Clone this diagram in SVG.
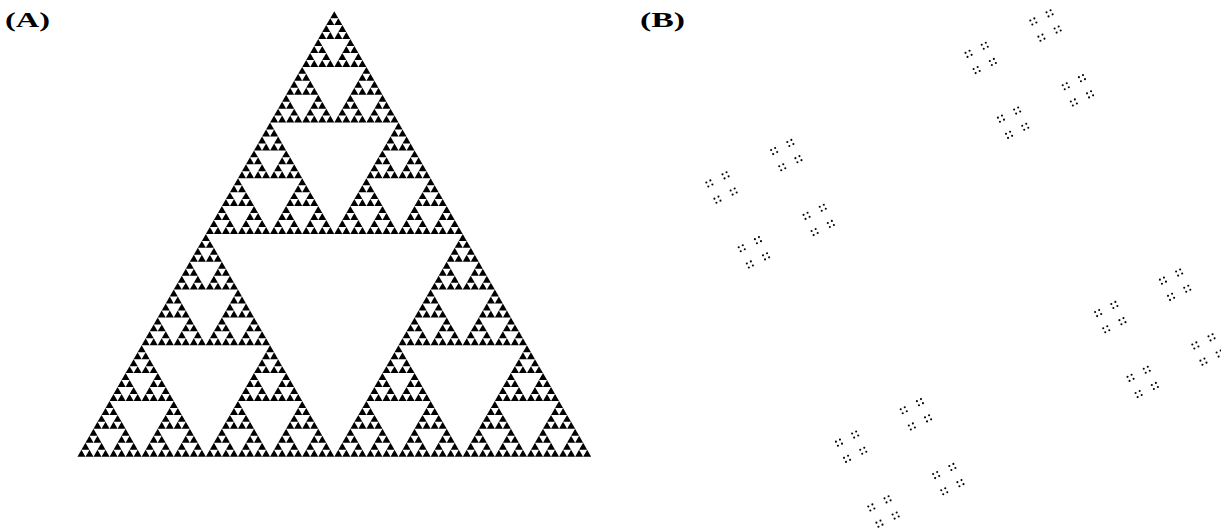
<svg xmlns="http://www.w3.org/2000/svg" width="1221" height="529" viewBox="0 0 1221 529">
<style>
.lbl{font-family:"Liberation Serif","DejaVu Serif",serif;font-weight:bold;font-size:22px;fill:#000}
.tri{fill:#000}
.dot{fill:#000}
</style>
<defs>
<polygon id="t0" class="tri" points="0,0 -4.0135,6.96 4.0135,6.96"/>
<g id="t1"><use href="#t0"/><use href="#t0" x="-4.0135" y="6.96"/><use href="#t0" x="4.0135" y="6.96"/></g>
<g id="t2"><use href="#t1"/><use href="#t1" x="-8.027" y="13.92"/><use href="#t1" x="8.027" y="13.92"/></g>
<g id="t3"><use href="#t2"/><use href="#t2" x="-16.054" y="27.84"/><use href="#t2" x="16.054" y="27.84"/></g>
<g id="t4"><use href="#t3"/><use href="#t3" x="-32.108" y="55.68"/><use href="#t3" x="32.108" y="55.68"/></g>
<g id="t5"><use href="#t4"/><use href="#t4" x="-64.216" y="111.36"/><use href="#t4" x="64.216" y="111.36"/></g>
<g id="t6"><use href="#t5"/><use href="#t5" x="-128.432" y="222.72"/><use href="#t5" x="128.432" y="222.72"/></g>
<circle id="d0" class="dot" r="1.05"/>
<g id="d1"><use href="#d0" x="3.0375" y="1.0125"/><use href="#d0" x="-1.0125" y="3.0375"/><use href="#d0" x="-3.0375" y="-1.0125"/><use href="#d0" x="1.0125" y="-3.0375"/></g>
<g id="d2"><use href="#d1" x="12.15" y="4.05"/><use href="#d1" x="-4.05" y="12.15"/><use href="#d1" x="-12.15" y="-4.05"/><use href="#d1" x="4.05" y="-12.15"/></g>
<g id="d3"><use href="#d2" x="48.6" y="16.2"/><use href="#d2" x="-16.2" y="48.6"/><use href="#d2" x="-48.6" y="-16.2"/><use href="#d2" x="16.2" y="-48.6"/></g>
<g id="d4"><use href="#d3" x="194.4" y="64.8"/><use href="#d3" x="-64.8" y="194.4"/><use href="#d3" x="-194.4" y="-64.8"/><use href="#d3" x="64.8" y="-194.4"/></g>
</defs>
<g id="panelA">
<text class="lbl" x="5" y="27" textLength="45" lengthAdjust="spacingAndGlyphs">(A)</text>
<use id="sierpinski" href="#t6" x="334.3" y="11.2"/>
</g>
<g id="panelB">
<text class="lbl" x="640" y="27" textLength="45" lengthAdjust="spacingAndGlyphs">(B)</text>
<use id="dust" href="#d4" x="964.5" y="268.5"/>
</g>
</svg>
